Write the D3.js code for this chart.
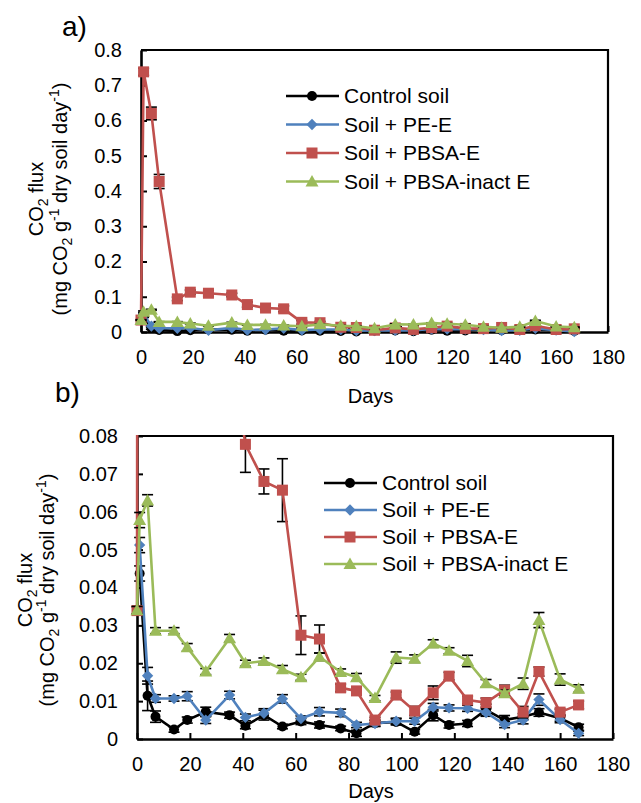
<!DOCTYPE html>
<html>
<head>
<meta charset="utf-8">
<script src="https://cdn.jsdelivr.net/npm/d3@7"></script>
<style>
  body { margin: 0; background: #fff; }
  text { font-family: Arial, "Liberation Sans", sans-serif; fill: #000; }
</style>
</head>
<body>
<div id="chart"></div>
<script>
// sampling days
var days = [0, 1, 4, 7, 14, 19, 26, 35, 41, 48, 55, 62, 69, 77, 83, 90, 98, 105, 112, 118, 125, 132, 139, 146, 152, 160, 167]

// CO2 flux (mg CO2 g-1 dry soil day-1)
var control = [null, 0.0437, 0.0114, 0.0059, 0.0025, 0.0050, 0.0072, 0.0063, 0.0035, 0.0063, 0.0033, 0.0046, 0.0037, 0.0028, 0.0015, 0.0042, 0.0045, 0.0019, 0.0063, 0.0037, 0.0041, 0.0077, 0.0050, 0.0059, 0.0070, 0.0055, 0.0031]
var controlErr = [null, 0.002, 0.0039, 0.0015, 0.0007, 0.0008, 0.0012, 0.0008, 0.0008, 0.0013, 0.0006, 0.0008, 0.0008, 0.0006, 0.0008, 0.0008, 0.0008, 0.0006, 0.0015, 0.0008, 0.0008, 0.0015, 0.0012, 0.0008, 0.001, 0.0008, 0.0008]

var peE = [null, 0.0512, 0.0167, 0.0107, 0.0107, 0.0113, 0.0050, 0.0116, 0.0057, 0.0068, 0.0106, 0.0054, 0.0072, 0.0069, 0.0037, 0.0041, 0.0047, 0.0047, 0.0084, 0.0082, 0.0081, 0.0070, 0.0038, 0.0050, 0.0104, 0.0051, 0.0015]
var peEErr = [null, 0.002, 0.0022, 0.001, 0.0007, 0.0012, 0.0009, 0.0010, 0.0009, 0.0012, 0.0011, 0.0007, 0.0011, 0.0010, 0.0007, 0.0008, 0.0008, 0.0008, 0.0010, 0.0008, 0.0008, 0.0010, 0.0008, 0.0010, 0.0015, 0.0008, 0.0006]

var pbsaE = [0.0339, 0.738, 0.62, 0.427, 0.094, 0.113, 0.110, 0.105, 0.0778, 0.068, 0.0657, 0.0274, 0.0264, 0.0135, 0.0127, 0.0050, 0.0116, 0.0074, 0.0122, 0.0166, 0.0103, 0.0096, 0.0129, 0.0071, 0.0178, 0.0071, 0.0090]
var pbsaEErr = [0.001, 0.01, 0.018, 0.02, 0.005, 0.006, 0.008, 0.005, 0.0074, 0.0033, 0.0083, 0.0051, 0.0037, 0.001, 0.001, 0.0007, 0.0008, 0.0012, 0.0018, 0.0010, 0.0010, 0.0012, 0.0013, 0.0015, 0.0012, 0.0008, 0.0010]

var pbsaInact = [0.0340, 0.0578, 0.0630, 0.0286, 0.0286, 0.0242, 0.0178, 0.0266, 0.0200, 0.0206, 0.0184, 0.0163, 0.0217, 0.0177, 0.0163, 0.0108, 0.0215, 0.0212, 0.0252, 0.0233, 0.0206, 0.0147, 0.0121, 0.0146, 0.0314, 0.0157, 0.0133]
var pbsaInactErr = [0.001, 0.002, 0.0015, 0.0008, 0.0008, 0.0010, 0.0008, 0.0010, 0.0008, 0.0008, 0.0010, 0.0008, 0.0010, 0.0008, 0.0010, 0.0007, 0.0015, 0.0010, 0.0010, 0.0008, 0.0015, 0.0010, 0.0008, 0.0015, 0.0020, 0.0015, 0.0010]

var seriesNames = ["Control soil", "Soil + PE-E", "Soil + PBSA-E", "Soil + PBSA-inact E"]
var seriesValues = [control, peE, pbsaE, pbsaInact]
var seriesErrors = [controlErr, peEErr, pbsaEErr, pbsaInactErr]

var xTicks = [0, 20, 40, 60, 80, 100, 120, 140, 160, 180]
var yTicksA = [0, 0.1, 0.2, 0.3, 0.4, 0.5, 0.6, 0.7, 0.8]
var yTicksB = [0, 0.01, 0.02, 0.03, 0.04, 0.05, 0.06, 0.07, 0.08]

var colors = ["#000000", "#4F81BD", "#C0504D", "#9BBB59"]
var shapes = ["circle", "diamond", "square", "triangle"]

var svg = d3.select("#chart").append("svg")
  .attr("width", 641)
  .attr("height", 803)

function marker(sel, shape, color) {
  if (shape == "circle") {
    sel.append("circle").attr("r", 5).attr("fill", color)
  } else if (shape == "diamond") {
    sel.append("rect").attr("x", -4).attr("y", -4).attr("width", 8).attr("height", 8)
      .attr("transform", "rotate(45)").attr("fill", color)
  } else if (shape == "square") {
    sel.append("rect").attr("x", -5.5).attr("y", -5.5).attr("width", 11).attr("height", 11).attr("fill", color)
  } else {
    sel.append("path").attr("d", "M0,-6.5L6.5,5L-6.5,5Z").attr("fill", color)
  }
}

function drawPanel(cfg) {
  var x = d3.scaleLinear().domain([0, 180]).range([cfg.left, cfg.right])
  var y = d3.scaleLinear().domain([0, cfg.yMax]).range([cfg.bottom, cfg.top])

  // clip only the top (values above the axis max), leave room for markers at the sides
  svg.append("clipPath").attr("id", cfg.id)
    .append("rect")
    .attr("x", cfg.left - 12).attr("y", cfg.top - 1)
    .attr("width", cfg.right - cfg.left + 24).attr("height", cfg.bottom - cfg.top + 12)

  // top and right frame
  svg.append("path")
    .attr("d", "M" + cfg.left + "," + cfg.top + "H" + cfg.right + "V" + cfg.bottom)
    .attr("fill", "none").attr("stroke", "#000").attr("stroke-width", 2.2)

  var xAxis = svg.append("g")
    .attr("transform", "translate(0," + cfg.bottom + ")")
    .call(d3.axisBottom(x).tickValues(xTicks).tickSize(-6).tickSizeOuter(0).tickPadding(18))
  var yAxis = svg.append("g")
    .attr("transform", "translate(" + cfg.left + ",0)")
    .call(d3.axisLeft(y).tickValues(cfg.yTicks).tickSize(-6).tickSizeOuter(0).tickPadding(19)
      .tickFormat(function(d) { return d === 0 ? "0" : d3.format(cfg.fmt)(d) }))

  ;[xAxis, yAxis].forEach(function(a) {
    a.select(".domain").attr("stroke", "#000").attr("stroke-width", 2.6)
    a.selectAll(".tick line").attr("stroke", "#000").attr("stroke-width", 2)
    a.selectAll("text").attr("font-size", 20).attr("font-family", "Arial, 'Liberation Sans', sans-serif").attr("fill", "#000")
  })

  // axis titles
  svg.append("text")
    .attr("x", (cfg.left + cfg.right) / 2 - 4).attr("y", cfg.daysY)
    .attr("text-anchor", "middle").attr("font-size", 20)
    .text("Days")

  var yt = svg.append("g")
    .attr("transform", "translate(0," + cfg.titleY + ") rotate(-90)")
  var t1 = yt.append("text").attr("x", 0).attr("y", cfg.title1X).attr("text-anchor", "middle").attr("font-size", 20)
  t1.append("tspan").text("CO")
  t1.append("tspan").attr("dy", 5).attr("font-size", 14).text("2")
  t1.append("tspan").attr("dy", -5).text(" flux")
  var t2 = yt.append("text").attr("x", 0).attr("y", cfg.title2X).attr("text-anchor", "middle").attr("font-size", 20)
  t2.append("tspan").text("(mg CO")
  t2.append("tspan").attr("dy", 5).attr("font-size", 14).text("2")
  t2.append("tspan").attr("dy", -5).text(" g")
  t2.append("tspan").attr("dy", -8).attr("font-size", 14).text("-1")
  t2.append("tspan").attr("dy", 8).text(" dry soil day")
  t2.append("tspan").attr("dy", -8).attr("font-size", 14).text("-1")
  t2.append("tspan").attr("dy", 8).text(")")

  svg.append("text")
    .attr("x", cfg.tagX).attr("y", cfg.tagY)
    .attr("font-size", 28)
    .text(cfg.tag)

  // series
  var plot = svg.append("g").attr("clip-path", "url(#" + cfg.id + ")")
  var line = d3.line().x(function(d) { return x(d.day) }).y(function(d) { return y(d.v) })

  seriesValues.forEach(function(vals, s) {
    var pts = days.map(function(d, i) {
      return { day: d, v: vals[i], e: seriesErrors[s][i] }
    }).filter(function(p) { return p.v != null })

    var eb = plot.append("g").attr("stroke", "#000").attr("stroke-width", 1.6)
    pts.forEach(function(p) {
      var cx = x(p.day), y0 = y(p.v - p.e), y1 = y(p.v + p.e)
      eb.append("line").attr("x1", cx).attr("x2", cx).attr("y1", y0).attr("y2", y1)
      eb.append("line").attr("x1", cx - 5.5).attr("x2", cx + 5.5).attr("y1", y0).attr("y2", y0)
      eb.append("line").attr("x1", cx - 5.5).attr("x2", cx + 5.5).attr("y1", y1).attr("y2", y1)
    })

    plot.append("path")
      .datum(pts)
      .attr("d", line)
      .attr("fill", "none")
      .attr("stroke", colors[s])
      .attr("stroke-width", 2.6)
      .attr("stroke-linejoin", "round")

    plot.selectAll(".m" + s)
      .data(pts)
      .enter()
      .append("g")
      .attr("transform", function(d) { return "translate(" + x(d.day) + "," + y(d.v) + ")" })
      .each(function() { marker(d3.select(this), shapes[s], colors[s]) })
  })

  // legend
  seriesNames.forEach(function(name, s) {
    var ly = cfg.legY + s * cfg.legStep
    var lg = svg.append("g")
    lg.append("line")
      .attr("x1", cfg.legX).attr("x2", cfg.legX + 53)
      .attr("y1", ly).attr("y2", ly)
      .attr("stroke", colors[s]).attr("stroke-width", 2.6)
    var m = lg.append("g").attr("transform", "translate(" + (cfg.legX + 26) + "," + ly + ")")
    marker(m, shapes[s], colors[s])
    lg.append("text")
      .attr("x", cfg.legX + 58).attr("y", ly + 7)
      .attr("font-size", 21)
      .text(name)
  })
}

drawPanel({
  id: "clipA", left: 141, right: 608, top: 50, bottom: 332,
  yMax: 0.8, yTicks: yTicksA, fmt: ".1f",
  daysY: 403, titleY: 199, title1X: 43, title2X: 67,
  tag: "a)", tagX: 62, tagY: 36,
  legX: 286, legY: 96, legStep: 28.5
})

drawPanel({
  id: "clipB", left: 137, right: 613, top: 436, bottom: 739,
  yMax: 0.08, yTicks: yTicksB, fmt: ".2f",
  daysY: 798, titleY: 590, title1X: 32, title2X: 54,
  tag: "b)", tagX: 55, tagY: 402,
  legX: 324, legY: 483, legStep: 27
})
</script>
</body>
</html>
